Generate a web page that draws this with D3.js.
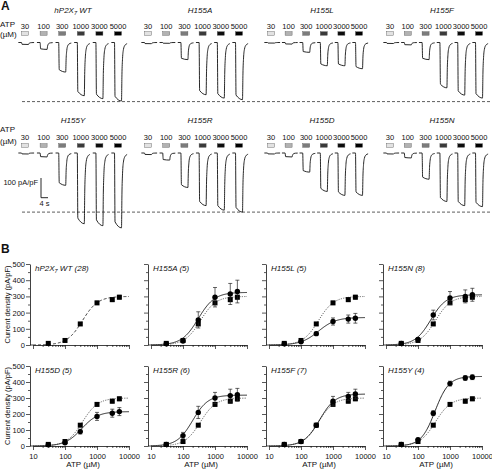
<!DOCTYPE html>
<html><head><meta charset="utf-8">
<script src="https://cdn.jsdelivr.net/npm/d3@7"></script>
<style>
body{margin:0;background:#fff}
svg{display:block}
text{font-family:"Liberation Sans",Arial,Helvetica,sans-serif;fill:#111}
</style>
</head><body>
<svg id="c" width="492" height="473"></svg>
<script>
// ---------------- DATA ----------------
// Panel A : ATP concentrations (µM) and bar shades
const concentrations = [30, 100, 300, 1000, 3000, 5000];
const concLabels = ["30", "100", "300", "1000", "3000", "5000"];
const barShades = ["#e2e2e2", "#b2b2b2", "#7c7c7c", "#3a3a3a", "#0c0c0c", "#000000"];
// Panel A : trace groups and peak current (pA/pF) of each representative trace
const traceGroups = ["hP2X7 WT", "H155A", "H155L", "H155F", "H155Y", "H155R", "H155D", "H155N"];
const peakWT    = [10, 35, 150, 270, 285, 297];
const peakH155A = [6, 4, 87, 265, 282, 290];
const peakH155L = [3, 8, 50, 118, 118, 133];
const peakH155F = [5, 12, 87, 230, 267, 282];
const peakH155Y = [5, 20, 164, 359, 369, 380];
const peakH155R = [8, 36, 175, 267, 290, 300];
const peakH155D = [5, 20, 97, 195, 215, 215];
const peakH155N = [5, 25, 133, 246, 267, 272];
const tracePeaks = [peakWT, peakH155A, peakH155L, peakH155F, peakH155Y, peakH155R, peakH155D, peakH155N];
// current waveform template: time (s, from ATP onset) and fraction of peak
const traceTime = [-1.8, 0, 0.3, 4, 4.25, 4.6, 5.1, 5.9, 7.2];
const traceFrac = [0, 0, 0.92, 1, 0.55, 0.27, 0.12, 0.05, 0.02];
const dashedLevel = 300; // pA/pF reference line

// Panel B : concentration-response data
const doseConc = [30, 100, 300, 1000, 3000, 5000];
const wtMean = [10, 28, 130, 260, 280, 295];
const wtErr  = [2, 4, 8, 10, 12, 12];
const panelNames = ["hP2X7 WT (28)", "H155A (5)", "H155L (5)", "H155N (8)", "H155D (5)", "H155R (6)", "H155F (7)", "H155Y (4)"];
const meanH155A = [8, 25, 155, 295, 315, 330];
const errH155A  = [3, 5, 50, 60, 65, 70];
const meanH155L = [8, 20, 70, 145, 160, 165];
const errH155L  = [3, 5, 10, 22, 25, 30];
const meanH155N = [10, 35, 185, 290, 300, 310];
const errH155N  = [3, 8, 30, 40, 40, 40];
const meanH155D = [8, 20, 90, 185, 205, 215];
const errH155D  = [3, 5, 15, 25, 25, 25];
const meanH155R = [10, 65, 210, 300, 315, 320];
const errH155R  = [4, 20, 38, 35, 40, 40];
const meanH155F = [10, 28, 130, 280, 310, 325];
const errH155F  = [3, 5, 10, 30, 25, 30];
const meanH155Y = [10, 40, 205, 390, 425, 430];
const errH155Y  = [4, 8, 15, 15, 15, 15];
const mutMeans = [null, meanH155A, meanH155L, meanH155N, meanH155D, meanH155R, meanH155F, meanH155Y];
const mutErrs  = [null, errH155A, errH155L, errH155N, errH155D, errH155R, errH155F, errH155Y];
// Hill fit parameters [Imax, EC50 (µM), nH]
const fitWT = [300, 350, 1.8];
const fitMut = [null, [325, 300, 1.7], [170, 350, 1.6], [310, 250, 1.8], [215, 330, 1.7],
                [318, 200, 1.8], [325, 380, 1.8], [435, 340, 2.0]];
const yTicks = [0, 100, 200, 300, 400, 500];
const yMinor = [50, 150, 250, 350, 450];
const xTicks = [10, 100, 1000, 10000];
const xMinor = [20,30,40,50,60,70,80,90,200,300,400,500,600,700,800,900,2000,3000,4000,5000,6000,7000,8000,9000];

// ---------------- DRAW ----------------
const svg = d3.select("#c");

svg.append("text").attr("x", 1).attr("y", 10).attr("font-size", 12).attr("font-weight", "bold").text("A");
svg.append("text").attr("x", 1).attr("y", 253).attr("font-size", 12).attr("font-weight", "bold").text("B");

// ---- Panel A ----
const firstCenter = [25, 148, 271, 390];
const spacing = [18.6, 18.2, 17.6, 17.8];
const titleX = [73, 200, 322, 442];
const rowBase = [42.5, 153];
const rowBarY = [33.5, 145.5];
const rowLabelY = [29, 139.5];
const rowTitleY = [13, 123];
const rowAtpY = [[27, 37], [132, 144]];

const tScale = d3.scaleLinear().domain([0, 4]).range([0, 7]);   // s -> px
const aScale = d3.scaleLinear().domain([0, 100]).range([0, 19.7]); // pA/pF -> px

const gA = svg.append("g");
[0, 1].forEach(r => {
  gA.append("text").attr("x", 0).attr("y", rowAtpY[r][0]).attr("font-size", 8).text("ATP");
  gA.append("text").attr("x", 0).attr("y", rowAtpY[r][1]).attr("font-size", 8).text("(µM)");
  gA.append("line").attr("x1", 22).attr("x2", 490)
    .attr("y1", rowBase[r] + aScale(dashedLevel)).attr("y2", rowBase[r] + aScale(dashedLevel))
    .attr("stroke", "#333").attr("stroke-width", 0.8).attr("stroke-dasharray", "3,2");
});

traceGroups.forEach((name, gi) => {
  const r = Math.floor(gi / 4), c = gi % 4;
  const t = gA.append("text").attr("x", titleX[c]).attr("y", rowTitleY[r])
    .attr("text-anchor", "middle").attr("font-size", 8).attr("font-style", "italic");
  if (name.startsWith("hP2X7")) {
    t.append("tspan").text("hP2X");
    t.append("tspan").attr("font-size", 5.5).attr("dy", 2).text("7");
    t.append("tspan").attr("dy", -2).text(" WT");
  } else t.text(name);

  concentrations.forEach((conc, j) => {
    const cx = firstCenter[c] + j * spacing[c];
    const onset = cx - tScale(2);
    gA.append("text").attr("x", cx).attr("y", rowLabelY[r]).attr("text-anchor", "middle")
      .attr("font-size", 7.5).text(concLabels[j]);
    gA.append("rect").attr("x", onset).attr("y", rowBarY[r] - 1.8)
      .attr("width", tScale(4)).attr("height", 3.6)
      .attr("fill", barShades[j]).attr("stroke", "#555").attr("stroke-width", 0.4);
    const peak = tracePeaks[gi][j];
    const pts = traceTime.map((tt, k) => [onset + tScale(tt), rowBase[r] + aScale(peak * traceFrac[k])]);
    gA.append("path").attr("d", d3.line().curve(d3.curveMonotoneX)(pts))
      .attr("fill", "none").attr("stroke", "#111").attr("stroke-width", 0.9);
  });
});

// scale bars
const sbX = 41, sbY = 178;
gA.append("path")
  .attr("d", `M${sbX},${sbY} V${sbY + aScale(100)} H${sbX + tScale(4)}`)
  .attr("fill", "none").attr("stroke", "#111").attr("stroke-width", 0.9);
gA.append("text").attr("x", sbX - 3).attr("y", sbY + 7).attr("text-anchor", "end").attr("font-size", 7.5).text("100 pA/pF");
gA.append("text").attr("x", sbX + tScale(2)).attr("y", sbY + aScale(100) + 8).attr("text-anchor", "middle").attr("font-size", 7.5).text("4 s");

// ---- Panel B ----
const colX = [30, 148, 266, 383];
const rowY0 = [345, 446];
const rowY500 = [264, 366];
const hill = (p, x) => p[0] / (1 + Math.pow(p[1] / x, p[2]));
const curveGrid = d3.range(0, 3.0001, 0.02).map(e => 10 * Math.pow(10, e));

panelNames.forEach((name, i) => {
  const r = Math.floor(i / 4), c = i % 4;
  const g = svg.append("g");
  const x = d3.scaleLog().domain([10, 10000]).range([colX[c] + 3, colX[c] + 99]);
  const y = d3.scaleLinear().domain([0, 500]).range([rowY0[r], rowY500[r]]);

  // y axis
  const ya = g.append("g").attr("transform", `translate(${colX[c]},0)`)
    .call(d3.axisLeft(y).tickValues(yTicks).tickSize(4).tickSizeOuter(0)
      .tickFormat(c === 0 ? d3.format("d") : () => ""));
  g.append("g").attr("transform", `translate(${colX[c]},0)`)
    .call(d3.axisLeft(y).tickValues(yMinor).tickSize(2).tickSizeOuter(0).tickFormat(() => ""))
    .select(".domain").remove();
  // x axis
  const xa = g.append("g").attr("transform", `translate(0,${rowY0[r]})`)
    .call(d3.axisBottom(x).tickValues(xTicks).tickSize(4).tickSizeOuter(0)
      .tickFormat(r === 1 ? d3.format("d") : () => ""));
  g.append("g").attr("transform", `translate(0,${rowY0[r]})`)
    .call(d3.axisBottom(x).tickValues(xMinor).tickSize(2).tickSizeOuter(0).tickFormat(() => ""))
    .select(".domain").remove();
  g.append("line").attr("x1", colX[c]).attr("x2", x(10)).attr("y1", rowY0[r]).attr("y2", rowY0[r])
    .attr("stroke", "#111").attr("stroke-width", 0.8);
  g.selectAll(".domain").attr("stroke", "#111").attr("stroke-width", 0.8);
  g.selectAll(".tick line").attr("stroke", "#111").attr("stroke-width", 0.7);
  g.selectAll(".tick text").attr("font-size", 7.5).attr("fill", "#111")
    .attr("font-family", "Liberation Sans, Arial, sans-serif");
  ya.selectAll(".tick text").attr("x", -5);
  xa.selectAll(".tick text").attr("y", 8);

  if (c === 0) {
    g.append("text").attr("transform", `translate(10,${(rowY0[r] + rowY500[r]) / 2}) rotate(-90)`)
      .attr("text-anchor", "middle").attr("font-size", 7.5).text("Current density (pA/pF)");
  }
  if (r === 1) {
    g.append("text").attr("x", (x(10) + x(10000)) / 2 + 2).attr("y", 467)
      .attr("text-anchor", "middle").attr("font-size", 8).text("ATP (µM)");
  }
  // title
  const tt = g.append("text").attr("x", colX[c] + 5).attr("y", rowY500[r] + 7)
    .attr("font-size", 8).attr("font-style", "italic");
  if (i === 0) {
    tt.append("tspan").text("hP2X");
    tt.append("tspan").attr("font-size", 5.5).attr("dy", 2).text("7");
    tt.append("tspan").attr("dy", -2).text(" WT (28)");
  } else tt.text(name);

  const line = p => d3.line().x(d => x(d)).y(d => y(hill(p, d)))(curveGrid);

  // WT reference curve + squares
  g.append("path").attr("d", line(fitWT)).attr("fill", "none")
    .attr("stroke", i === 0 ? "#111" : "#555").attr("stroke-width", i === 0 ? 0.8 : 0.9)
    .attr("stroke-dasharray", i === 0 ? "3,2" : "1.2,1.2");
  doseConc.forEach((d, k) => {
    const cx = x(d);
    g.append("line").attr("x1", cx).attr("x2", cx).attr("y1", y(wtMean[k] - wtErr[k])).attr("y2", y(wtMean[k] + wtErr[k]))
      .attr("stroke", "#444").attr("stroke-width", 0.7);
    [wtMean[k] - wtErr[k], wtMean[k] + wtErr[k]].forEach(v =>
      g.append("line").attr("x1", cx - 2).attr("x2", cx + 2).attr("y1", y(v)).attr("y2", y(v)).attr("stroke", "#444").attr("stroke-width", 0.7));
    g.append("rect").attr("x", cx - 2.5).attr("y", y(wtMean[k]) - 2.5).attr("width", 5).attr("height", 5).attr("fill", "#000");
  });

  if (i > 0) {
    g.append("path").attr("d", line(fitMut[i])).attr("fill", "none").attr("stroke", "#111").attr("stroke-width", 0.9);
    doseConc.forEach((d, k) => {
      const cx = x(d), m = mutMeans[i][k], e = mutErrs[i][k];
      g.append("line").attr("x1", cx).attr("x2", cx).attr("y1", y(m - e)).attr("y2", y(m + e))
        .attr("stroke", "#222").attr("stroke-width", 0.7);
      [m - e, m + e].forEach(v =>
        g.append("line").attr("x1", cx - 2).attr("x2", cx + 2).attr("y1", y(v)).attr("y2", y(v)).attr("stroke", "#222").attr("stroke-width", 0.7));
      g.append("circle").attr("cx", cx).attr("cy", y(m)).attr("r", 2.7).attr("fill", "#000");
    });
  }
});
</script>
</body></html>
